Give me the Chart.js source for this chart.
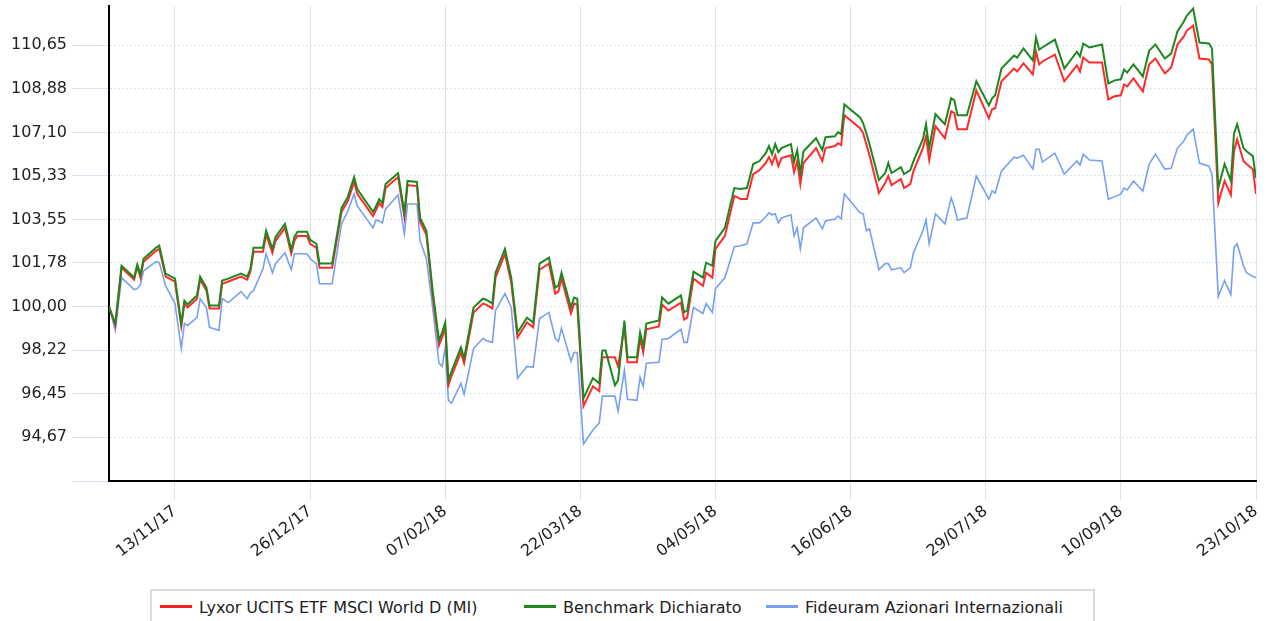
<!DOCTYPE html>
<html lang="it">
<head>
<meta charset="UTF-8">
<title>Lyxor UCITS ETF MSCI World D (MI)</title>
<style>
    body { margin: 0; background: #fff; font-family: "DejaVu Sans", Verdana, sans-serif; }
    #wrap { position: relative; width: 1267px; height: 621px; overflow: hidden; }
    #chart { position: absolute; left: 0; top: 0; }
    .legend {
        position: absolute; left: 150px; top: 589px; width: 941px; height: 40px;
        border: 2px solid #dcdcdc; background: #fff;
    }
    .item { position: absolute; top: 7px; font-size: 16px; color: #222; white-space: nowrap; }
    .item i { display: inline-block; width: 32px; height: 3px; vertical-align: middle; margin-right: 7px; position: relative; top: -2px; }
</style>
</head>
<body>
<div id="wrap">
    <canvas id="chart" width="1267" height="585"></canvas>
    <div class="legend">
        <span class="item" style="left:8px"><i style="background:#ff2020"></i>Lyxor UCITS ETF MSCI World D (MI)</span>
        <span class="item" style="left:372px"><i style="background:#1e871e"></i>Benchmark Dichiarato</span>
        <span class="item" style="left:614px"><i style="background:#78a0f0"></i>Fideuram Azionari Internazionali</span>
    </div>
</div>

<script src="https://cdn.jsdelivr.net/npm/chart.js"></script>
<script>
    // giorni dal 23/10/17
    const days = [
        0, 2, 4, 8, 9, 10, 11, 15, 16, 18,
        21, 23, 24, 25, 28, 29, 31, 32, 35, 36,
        38, 42, 44, 45, 46, 49, 50, 52, 53, 56,
        58, 59, 60, 63, 64, 66, 67, 71, 74, 76,
        78, 79, 84, 85, 86, 87, 88, 92, 94, 95,
        98, 99, 101, 103, 105, 106, 107, 108, 109, 112,
        113, 116, 119, 120, 122, 123, 126, 128, 130, 133,
        135, 137, 140, 142, 143, 144, 147, 148, 149, 151,
        154, 156, 157, 158, 161, 162, 164, 165, 168, 169,
        170, 171, 175, 176, 178, 182, 183, 184, 186, 189,
        190, 192, 193, 196, 199, 201, 203, 205, 207, 209,
        210, 211, 212, 213, 214, 217, 218, 219, 220, 221,
        225, 227, 228, 231, 232, 233, 234, 239, 240, 241,
        242, 245, 247, 248, 249, 252, 253, 255, 256, 259,
        260, 261, 263, 266, 268, 269, 270, 273, 276, 280,
        281, 282, 284, 288, 289, 291, 294, 295, 296, 297,
        301, 304, 308, 309, 310, 312, 316, 318, 320, 322,
        323, 324, 326, 329, 331, 333, 336, 338, 340, 342,
        343, 345, 347, 350, 351, 353, 355, 357, 358, 359,
        361, 362, 364, 365
    ];

    const lyxor = [
        100.00, 99.23, 101.58, 101.10, 101.62, 101.18, 101.83, 102.27, 102.35, 101.22,
        101.02, 99.19, 100.12, 99.96, 100.32, 101.10, 100.65, 99.92, 99.92, 100.93,
        101.02, 101.22, 101.10, 101.42, 102.23, 102.23, 102.92, 102.19, 102.68, 103.21,
        102.15, 102.68, 102.88, 102.88, 102.56, 102.40, 101.58, 101.58, 103.86, 104.30,
        105.08, 104.59, 103.69, 103.94, 104.22, 104.06, 104.83, 105.28, 103.65, 104.95,
        104.91, 103.45, 102.92, 100.45, 98.42, 98.74, 99.15, 96.79, 97.16, 98.13,
        97.69, 99.76, 100.12, 100.08, 99.92, 101.18, 102.15, 100.97, 98.74, 99.35,
        99.15, 101.50, 101.75, 100.53, 100.61, 101.14, 99.72, 100.12, 100.08, 95.94,
        96.75, 96.55, 97.93, 97.93, 97.93, 97.56, 99.15, 97.73, 97.73, 98.70,
        98.13, 99.07, 99.19, 100.08, 99.84, 100.16, 99.47, 99.55, 101.14, 100.85,
        101.38, 101.18, 102.35, 102.88, 104.51, 104.38, 104.38, 105.40, 105.56, 105.85,
        106.09, 105.81, 106.17, 105.72, 106.05, 106.17, 105.48, 105.93, 104.99, 105.85,
        106.46, 105.93, 106.46, 106.54, 106.66, 106.58, 107.80, 107.27, 107.06, 106.62,
        106.17, 104.63, 105.03, 105.32, 104.95, 105.20, 104.83, 104.99, 105.52, 106.46,
        106.94, 105.97, 107.35, 106.86, 107.96, 107.88, 107.23, 107.23, 108.81, 107.67,
        108.04, 108.08, 109.18, 109.70, 109.58, 109.91, 109.46, 110.39, 109.87, 109.99,
        110.27, 109.18, 109.83, 109.58, 110.15, 109.95, 109.95, 108.44, 108.57, 108.61,
        109.05, 108.97, 109.30, 108.77, 109.87, 110.11, 109.50, 109.74, 110.68, 111.00,
        111.25, 111.45, 110.11, 110.07, 109.87, 104.22, 105.12, 104.55, 106.33, 106.82,
        105.93, 105.81, 105.60, 104.59
    ];

    const benchmark = [
        100.00, 99.31, 101.66, 101.18, 101.71, 101.30, 101.95, 102.40, 102.48, 101.34,
        101.14, 99.31, 100.24, 100.08, 100.45, 101.22, 100.77, 100.04, 100.04, 101.06,
        101.14, 101.34, 101.22, 101.54, 102.40, 102.40, 103.09, 102.35, 102.84, 103.37,
        102.31, 102.84, 103.05, 103.05, 102.72, 102.56, 101.75, 101.75, 104.02, 104.47,
        105.28, 104.79, 103.86, 104.10, 104.38, 104.22, 104.99, 105.44, 103.82, 105.12,
        105.08, 103.61, 103.09, 100.65, 98.62, 98.94, 99.35, 97.00, 97.36, 98.34,
        97.89, 99.96, 100.32, 100.28, 100.12, 101.38, 102.35, 101.18, 98.94, 99.55,
        99.35, 101.75, 101.99, 100.77, 100.85, 101.38, 99.96, 100.37, 100.32, 96.26,
        97.08, 96.87, 98.21, 98.21, 96.79, 97.00, 99.43, 97.93, 97.93, 98.94,
        98.38, 99.31, 99.43, 100.37, 100.12, 100.45, 99.76, 99.84, 101.42, 101.18,
        101.79, 101.66, 102.68, 103.21, 104.83, 104.79, 104.83, 105.81, 105.93, 106.25,
        106.54, 106.21, 106.62, 106.29, 106.46, 106.62, 105.89, 106.37, 105.44, 106.33,
        106.86, 106.37, 106.90, 106.94, 107.11, 107.02, 108.24, 107.71, 107.47, 107.06,
        106.62, 105.16, 105.44, 105.85, 105.44, 105.68, 105.40, 105.56, 105.93, 106.82,
        107.43, 106.46, 107.84, 107.43, 108.49, 108.40, 107.80, 107.80, 109.18, 108.20,
        108.49, 108.61, 109.70, 110.23, 110.15, 110.52, 110.03, 110.96, 110.47, 110.56,
        110.88, 109.70, 110.39, 110.19, 110.72, 110.56, 110.68, 109.09, 109.22, 109.26,
        109.66, 109.54, 109.87, 109.38, 110.43, 110.68, 110.11, 110.31, 111.21, 111.61,
        111.86, 112.14, 110.76, 110.72, 110.52, 104.83, 105.81, 105.12, 107.06, 107.43,
        106.46, 106.33, 106.13, 105.24
    ];

    const fideuram = [
        100.00, 99.03, 101.18, 100.69, 100.73, 100.89, 101.46, 101.83, 101.79, 100.85,
        100.12, 98.29, 99.31, 99.23, 99.55, 100.32, 99.96, 99.15, 99.03, 100.32,
        100.16, 100.61, 100.32, 100.57, 100.65, 101.54, 102.15, 101.38, 101.75, 102.19,
        101.50, 102.15, 102.15, 102.15, 101.95, 101.75, 100.93, 100.93, 103.37, 103.90,
        104.59, 104.10, 103.21, 103.53, 103.49, 103.41, 103.98, 104.55, 102.96, 104.18,
        104.18, 102.68, 101.95, 99.96, 97.69, 97.56, 98.34, 96.18, 96.06, 96.87,
        96.43, 98.29, 98.70, 98.62, 98.54, 99.84, 100.53, 99.96, 97.08, 97.56,
        97.52, 99.51, 99.76, 98.70, 98.58, 99.11, 97.77, 98.13, 98.13, 94.40,
        94.97, 95.25, 96.35, 96.35, 96.35, 95.74, 97.40, 96.22, 96.18, 97.12,
        96.75, 97.69, 97.73, 98.66, 98.70, 99.07, 98.54, 98.54, 99.96, 99.72,
        100.12, 99.76, 100.73, 101.18, 102.44, 102.48, 102.56, 103.41, 103.41, 103.65,
        103.82, 103.74, 103.78, 103.41, 103.61, 103.74, 102.88, 103.21, 102.35, 103.21,
        103.61, 103.17, 103.49, 103.57, 103.69, 103.57, 104.59, 103.82, 103.78, 103.09,
        103.17, 101.50, 101.75, 101.75, 101.50, 101.58, 101.38, 101.58, 102.19, 103.09,
        103.53, 102.56, 103.78, 103.37, 104.43, 104.06, 103.53, 103.61, 105.32, 104.38,
        104.71, 104.63, 105.52, 106.09, 106.05, 106.17, 105.60, 106.41, 106.41, 105.89,
        106.25, 105.40, 105.93, 105.77, 106.21, 105.97, 105.93, 104.38, 104.47, 104.59,
        104.83, 104.75, 105.12, 104.71, 105.81, 106.21, 105.60, 105.64, 106.46, 106.74,
        106.98, 107.23, 105.85, 105.72, 105.40, 100.41, 101.06, 100.49, 102.40, 102.56,
        101.66, 101.38, 101.22, 101.18
    ];

    const tickDays = [21, 64, 107, 150, 193, 236, 279, 322, 365];
    const tickLabels = ['13/11/17', '26/12/17', '07/02/18', '22/03/18', '04/05/18',
                        '16/06/18', '29/07/18', '10/09/18', '23/10/18'];
    const yTicks = [94.67, 96.45, 98.22, 100.00, 101.78, 103.55, 105.33, 107.10, 108.88, 110.65];
    const yMin = 92.89;
    const yMax = 112.25;

    const gridColor = 'rgb(214,227,247)';
    const tickFont = { family: 'DejaVu Sans', size: 16 };

    function points(values) {
        return days.map((d, i) => ({ x: d, y: values[i] }));
    }

    new Chart(document.getElementById('chart'), {
        type: 'line',
        data: {
            datasets: [
                { label: 'Lyxor UCITS ETF MSCI World D (MI)', data: points(lyxor), borderColor: 'rgba(255,20,20,0.9)', borderWidth: 2, order: 1 },
                { label: 'Benchmark Dichiarato', data: points(benchmark), borderColor: 'rgb(30,135,30)', borderWidth: 2, order: 0 },
                { label: 'Fideuram Azionari Internazionali', data: points(fideuram), borderColor: 'rgb(120,160,240)', borderWidth: 1.6, order: 2 }
            ]
        },
        options: {
            responsive: false,
            animation: false,
            events: [],
            elements: { point: { radius: 0 }, line: { tension: 0 } },
            layout: { padding: { top: 6, right: 11, left: 0, bottom: 0 } },
            plugins: { legend: { display: false }, tooltip: { enabled: false } },
            scales: {
                x: {
                    type: 'linear',
                    min: 0,
                    max: 365,
                    afterBuildTicks: scale => { scale.ticks = tickDays.map(v => ({ value: v })); },
                    afterFit: scale => { scale.height = 104; scale.paddingLeft = 0; scale.paddingRight = 0; },
                    ticks: {
                        autoSkip: false,
                        minRotation: 38,
                        maxRotation: 38,
                        padding: 2,
                        color: '#222',
                        font: tickFont,
                        callback: v => tickLabels[tickDays.indexOf(v)]
                    },
                    grid: { color: gridColor, tickColor: gridColor, tickLength: 19 },
                    border: { color: '#000', width: 2 }
                },
                y: {
                    min: yMin,
                    max: yMax,
                    afterBuildTicks: scale => { scale.ticks = [yMin].concat(yTicks).map(v => ({ value: v })); },
                    afterFit: scale => { scale.width = 109; scale.paddingTop = 0; scale.paddingBottom = 0; },
                    ticks: {
                        padding: 5,
                        color: '#222',
                        font: tickFont,
                        callback: v => v === yMin ? '' : v.toFixed(2).replace('.', ',')
                    },
                    grid: { color: gridColor, tickColor: gridColor, tickLength: 37, tickBorderDash: [] },
                    border: { color: '#000', width: 2, dash: [2, 2] }
                }
            }
        }
    });
</script>
</body>
</html>
